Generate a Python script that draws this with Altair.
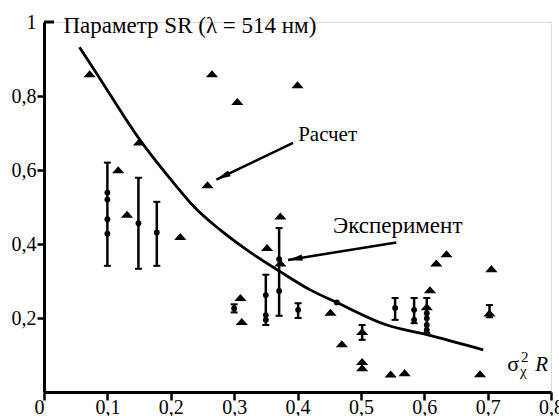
import math
import altair as alt
import pandas as pd

FONT = "Liberation Serif"

# --- calculated curve ("Расчет")
curve_x = [0.056, 0.0815, 0.151, 0.209, 0.236, 0.278, 0.320, 0.372, 0.420, 0.462, 0.541, 0.604, 0.693]
curve_y = [0.932, 0.865, 0.682, 0.556, 0.502, 0.438, 0.384, 0.326, 0.276, 0.242, 0.181, 0.155, 0.114]

# --- triangles (experimental points)
tri_x = [0.072, 0.150, 0.265, 0.305, 0.400, 0.117, 0.258, 0.131, 0.215, 0.373, 0.352, 0.373,
         0.310, 0.312, 0.452, 0.470, 0.502, 0.502, 0.547, 0.569, 0.619, 0.635, 0.609, 0.706,
         0.688, 0.502, 0.703, 0.604]
tri_y = [0.860, 0.675, 0.860, 0.785, 0.830, 0.600, 0.560, 0.480, 0.420, 0.475, 0.390, 0.348,
         0.255, 0.190, 0.215, 0.130, 0.082, 0.065, 0.048, 0.052, 0.348, 0.373, 0.276, 0.333,
         0.049, 0.163, 0.213, 0.230]

# --- circles (experimental points with error bars)
circ_x = [0.100, 0.100, 0.100, 0.100, 0.149, 0.178, 0.300, 0.350, 0.350, 0.350, 0.371, 0.371,
          0.401, 0.462, 0.554, 0.584, 0.584, 0.604, 0.604, 0.604, 0.604]
circ_y = [0.539, 0.520, 0.467, 0.428, 0.456, 0.431, 0.226, 0.262, 0.208, 0.195, 0.273, 0.359,
          0.222, 0.242, 0.227, 0.222, 0.195, 0.213, 0.199, 0.181, 0.168]

# --- error bars
eb_x = [0.100, 0.149, 0.178, 0.300, 0.350, 0.371, 0.401, 0.502, 0.554, 0.584, 0.604, 0.703]
eb_lo = [0.341, 0.333, 0.341, 0.215, 0.181, 0.206, 0.200, 0.141, 0.195, 0.186, 0.160, 0.202]
eb_hi = [0.620, 0.579, 0.514, 0.237, 0.317, 0.443, 0.240, 0.181, 0.254, 0.254, 0.254, 0.235]

# --- annotations
ann_text = ["Расчет", "Эксперимент"]
ann_x = [0.401, 0.456]
ann_y = [0.678, 0.429]
arrow_x0 = [0.393, 0.556]
arrow_y0 = [0.673, 0.404]
arrow_x1 = [0.272, 0.385]
arrow_y1 = [0.574, 0.357]

x_ticks = [0, 0.1, 0.2, 0.3, 0.4, 0.5, 0.6, 0.7, 0.8]
y_ticks = [0.2, 0.4, 0.6, 0.8, 1]

W, H = 507, 370
XD, YD = [0, 0.8], [0, 1]
xs = alt.Scale(domain=XD, nice=False, zero=False)
ys = alt.Scale(domain=YD, nice=False, zero=False)

curve_df = pd.DataFrame({"x": curve_x, "y": curve_y})
tri_df = pd.DataFrame({"x": tri_x, "y": tri_y})
circ_df = pd.DataFrame({"x": circ_x, "y": circ_y})
eb_df = pd.DataFrame({"x": eb_x, "lo": eb_lo, "hi": eb_hi})

arrow_rows = []
head_rows = []
for i in range(len(arrow_x0)):
    arrow_rows.append({"id": i, "o": 0, "x": arrow_x0[i], "y": arrow_y0[i]})
    arrow_rows.append({"id": i, "o": 1, "x": arrow_x1[i], "y": arrow_y1[i]})
    dx = (arrow_x1[i] - arrow_x0[i]) * W / (XD[1] - XD[0])
    dy = -(arrow_y1[i] - arrow_y0[i]) * H / (YD[1] - YD[0])
    ang = math.degrees(math.atan2(dx, -dy)) % 360
    head_rows.append({"x": arrow_x1[i], "y": arrow_y1[i], "a": ang})
arrow_df = pd.DataFrame(arrow_rows)
head_df = pd.DataFrame(head_rows)
ann_df = pd.DataFrame({"t": ann_text, "x": ann_x, "y": ann_y})

X = lambda f="x": alt.X(f"{f}:Q", scale=xs)
Y = lambda f="y": alt.Y(f"{f}:Q", scale=ys)

base_axes = alt.Chart(curve_df).mark_line(
    color="black", strokeWidth=2.8, interpolate="monotone"
).encode(
    x=alt.X("x:Q", scale=xs, axis=alt.Axis(
        values=x_ticks, title=None, grid=False,
        labelExpr="datum.value == 0 ? '0' : replace(format(datum.value, '.1f'), '.', ',')",
        labelAlign={"condition": {"test": "datum.value == 0", "value": "right"}, "value": "center"},
        domainColor="black", domainWidth=3, tickColor="black", tickWidth=2.5, tickSize=8,
        labelFont=FONT, labelFontSize=20, labelColor="black", labelPadding=-3,
        labelFlush=False, labelOverlap=False)),
    y=alt.Y("y:Q", scale=ys, axis=alt.Axis(
        values=y_ticks, grid=False,
        title="Параметр SR (λ = 514 нм)", titleAngle=0, titleAlign="left",
        titleBaseline="alphabetic", titleX=19, titleY=10, titleFont=FONT,
        titleFontSize=23, titleFontWeight="normal", titleColor="black",
        labelExpr="datum.value == 1 ? '1' : replace(format(datum.value, '.1f'), '.', ',')",
        tickOpacity={"condition": {"test": "datum.value == 1", "value": 0}, "value": 1},
        domainColor="black", domainWidth=3, tickColor="black", tickWidth=2.5, tickSize=7,
        labelFont=FONT, labelFontSize=20, labelColor="black", labelPadding=1,
        labelFlush=False, labelOverlap=False)),
)

top_tick = alt.Chart(pd.DataFrame({"y": [1]})).mark_rule(
    color="black", strokeWidth=3
).encode(y=Y(), x=alt.value(0), x2=alt.value(10))

tri_path = "M-1,0.55L1,0.55L0,-0.6Z"
tris = alt.Chart(tri_df).mark_point(
    shape=tri_path, filled=True, color="black", opacity=1, size=150
).encode(x=X(), y=Y())

circs = alt.Chart(circ_df).mark_point(
    shape="circle", filled=True, color="black", opacity=1, size=34
).encode(x=X(), y=Y())

bars = alt.Chart(eb_df).mark_rule(color="black", strokeWidth=2.5).encode(
    x=X(), y=Y("lo"), y2="hi:Q")
caps_lo = alt.Chart(eb_df).mark_tick(
    color="black", orient="horizontal", size=7, thickness=2, opacity=1
).encode(x=X(), y=Y("lo"))
caps_hi = alt.Chart(eb_df).mark_tick(
    color="black", orient="horizontal", size=7, thickness=2, opacity=1
).encode(x=X(), y=Y("hi"))

arrows = alt.Chart(arrow_df).mark_line(color="black", strokeWidth=2.5).encode(
    x=X(), y=Y(), detail="id:N", order="o:Q")
heads = alt.Chart(head_df).mark_point(
    shape="M0,0L0.8,3.6L-0.8,3.6Z", filled=True, color="black", opacity=1, size=64
).encode(x=X(), y=Y(), angle=alt.Angle("a:Q", scale=None))

ann1 = alt.Chart(ann_df.iloc[[0]]).mark_text(
    font=FONT, fontSize=21, align="left", baseline="alphabetic", color="black"
).encode(x=X(), y=Y(), text="t:N")
ann2 = alt.Chart(ann_df.iloc[[1]]).mark_text(
    font=FONT, fontSize=23, align="left", baseline="alphabetic", color="black"
).encode(x=X(), y=Y(), text="t:N")

# x-axis label: sigma^2_chi R
lab_t = ["σ", "2", "χ", "R"]
lab_x = [0.731, 0.7526, 0.751, 0.775]
lab_y = [0.058, 0.080, 0.043, 0.058]
lab_s = [22, 15, 15, 21]
lab_st = ["normal", "normal", "normal", "italic"]
lab_df = pd.DataFrame({"t": lab_t, "x": lab_x, "y": lab_y, "s": lab_s, "st": lab_st})
labs = []
for st in ["normal", "italic"]:
    for s in sorted(set(lab_s)):
        sub = lab_df[(lab_df.s == s) & (lab_df.st == st)]
        if len(sub) == 0:
            continue
        labs.append(alt.Chart(sub).mark_text(
            font=FONT, fontSize=s, fontStyle=st, align="left", baseline="alphabetic",
            color="black").encode(x=X(), y=Y(), text="t:N"))

chart = alt.layer(base_axes, top_tick, bars, caps_lo, caps_hi, circs, tris, arrows,
                  heads, ann1, ann2, *labs).properties(
    width=W, height=H,
    autosize=alt.AutoSizeParams(type="none"),
    padding={"left": 44, "top": 22, "right": 8, "bottom": 24},
).configure_view(stroke=None).configure(background="white", font=FONT)

chart.save("out.html", embed_options={"renderer": "svg", "actions": False})
